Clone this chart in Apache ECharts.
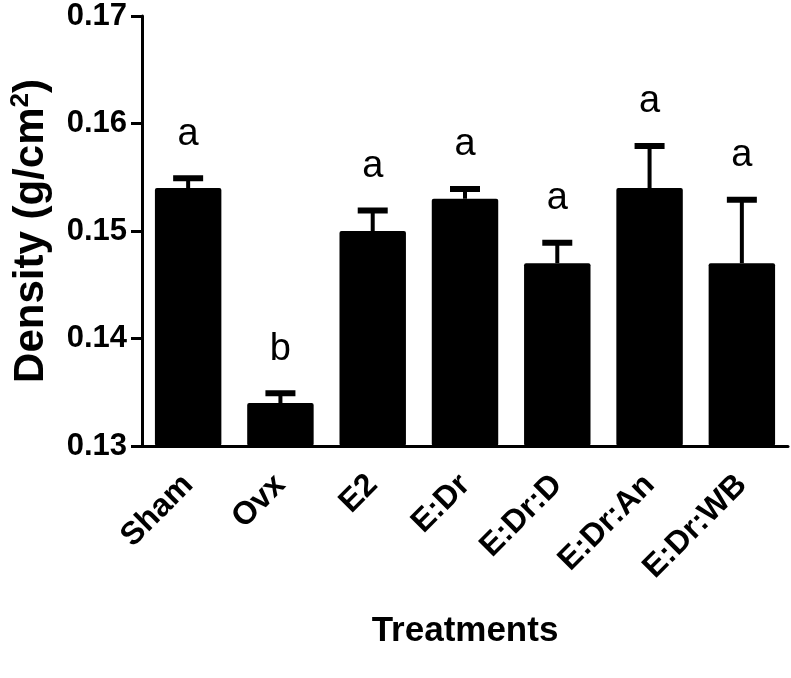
<!DOCTYPE html>
<html>
<head>
<meta charset="utf-8">
<script src="https://cdn.jsdelivr.net/npm/echarts@6/dist/echarts.min.js"></script>
<style>html,body{margin:0;padding:0;background:#fff;}#c{width:791px;height:678px;}</style>
</head>
<body>
<div id="c"></div>
<script>
var categories = ['Sham', 'Ovx', 'E2', 'E:Dr', 'E:Dr:D', 'E:Dr:An', 'E:Dr:WB'];
var means = [0.154, 0.134, 0.150, 0.153, 0.147, 0.154, 0.147];
var errors = [0.001, 0.001, 0.002, 0.001, 0.002, 0.004, 0.006];
var letters = ['a', 'b', 'a', 'a', 'a', 'a', 'a'];
var yTicks = [0.13, 0.14, 0.15, 0.16, 0.17];

var FONT = 'Liberation Sans, Arial, sans-serif';
var chart = echarts.init(document.getElementById('c'));
var errData = categories.map(function (c, i) { return [i, means[i], errors[i]]; });

chart.setOption({
  animation: false,
  grid: { left: 139, right: 3, top: 16, bottom: 232 },
  xAxis: {
    type: 'category',
    data: categories,
    name: 'Treatments',
    nameLocation: 'middle',
    nameGap: 168,
    nameTextStyle: { fontFamily: FONT, fontWeight: 'bold', fontSize: 35, color: '#000' },
    axisLine: { lineStyle: { color: '#000', width: 3 } },
    axisTick: { alignWithLabel: true, length: 11, lineStyle: { color: '#000', width: 3 } },
    axisLabel: { rotate: 45, margin: 34, fontFamily: FONT, fontWeight: 'bold', fontSize: 32, color: '#000', interval: 0 }
  },
  yAxis: {
    type: 'value',
    min: yTicks[0],
    max: yTicks[yTicks.length - 1],
    interval: 0.01,
    name: 'Density (g/cm{sup|2})',
    nameLocation: 'middle',
    nameRotate: 90,
    nameGap: 87,
    nameTextStyle: {
      fontFamily: FONT, fontWeight: 'bold', fontSize: 42, color: '#000',
      rich: { sup: { fontFamily: FONT, fontWeight: 'bold', fontSize: 26, color: '#000', verticalAlign: 'top', padding: [0, 0, 21, 0] } }
    },
    splitLine: { show: false },
    axisLine: { show: true, lineStyle: { color: '#000', width: 3 } },
    axisTick: { show: true, length: 11, lineStyle: { color: '#000', width: 3 } },
    axisLabel: { margin: 15, fontFamily: FONT, fontWeight: 'bold', fontSize: 31, color: '#000',
      formatter: function (v) { return v.toFixed(2); } }
  },
  series: [
    {
      type: 'bar',
      data: means,
      barCategoryGap: '28%',
      itemStyle: { color: '#000', borderRadius: 2 }
    },
    {
      type: 'custom',
      data: errData,
      z: 5,
      renderItem: function (params, api) {
        var i = api.value(0), m = api.value(1), e = api.value(2);
        var base = api.coord([i, m]);
        var top = api.coord([i, m + e]);
        var letter = letters[params.dataIndex];
        return {
          type: 'group',
          children: [
            { type: 'line', shape: { x1: base[0], y1: base[1], x2: top[0], y2: top[1] + 1 }, style: { stroke: '#000', lineWidth: 4 } },
            { type: 'line', shape: { x1: top[0] - 15, y1: top[1] + 1, x2: top[0] + 15, y2: top[1] + 1 }, style: { stroke: '#000', lineWidth: 6 } },
            { type: 'text', style: { text: letter, x: top[0], y: top[1] - 24, textAlign: 'center', textVerticalAlign: 'bottom', font: '38px ' + FONT, fill: '#000' } }
          ]
        };
      }
    }
  ]
});
</script>
</body>
</html>
